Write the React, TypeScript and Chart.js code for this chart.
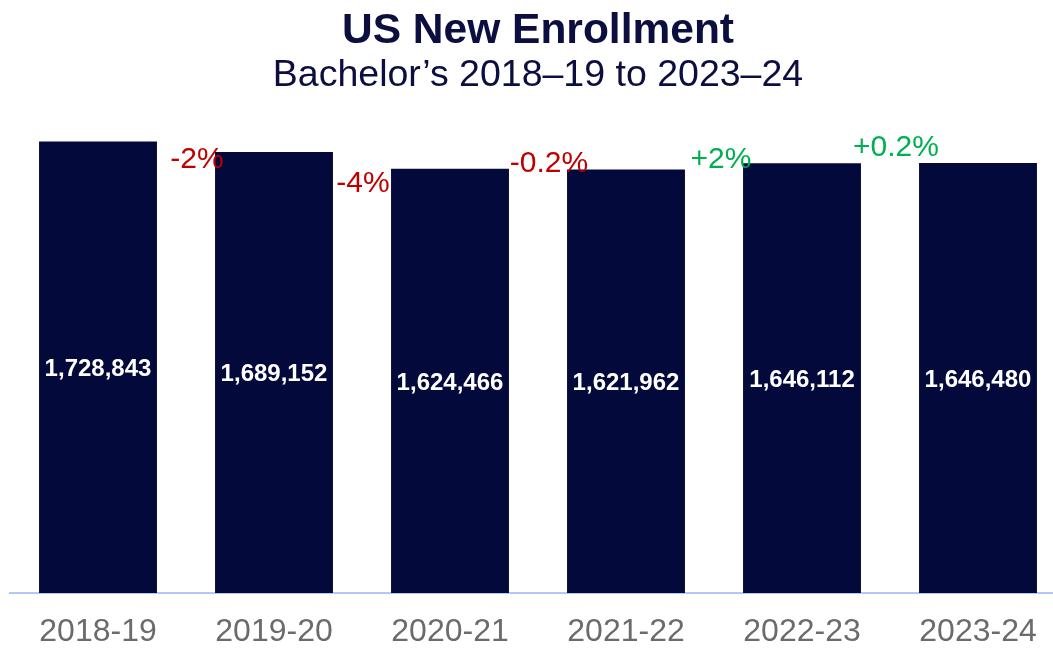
import React, { useEffect, useRef } from "react";
import { Chart, registerables } from "chart.js";

Chart.register(...registerables);

const categories = ["2018-19", "2019-20", "2020-21", "2021-22", "2022-23", "2023-24"];
const enrollment = [1728843, 1689152, 1624466, 1621962, 1646112, 1646480];
const changeLabels = ["-2%", "-4%", "-0.2%", "+2%", "+0.2%"];
const titleText = "US New Enrollment";
const subtitleText = "Bachelor\u2019s 2018\u201319 to 2023\u201324";

const FONT = "'Liberation Sans', Arial, Helvetica, sans-serif";
const NAVY = "#030a3b";
const RED = "#c00000";
const GREEN = "#00b050";

// small hand-placement nudges for the change labels (pixels)
const changeNudgeX = [11, 1, 11, 7, 6];
const changeNudgeY = [8, 15, -6, -3, -15];

const labelsPlugin = {
  id: "customLabels",
  afterDatasetsDraw(chart: any) {
    const ctx = chart.ctx;
    const meta = chart.getDatasetMeta(0);
    const xScale = chart.scales.x;
    ctx.save();
    ctx.font = `bold 24px ${FONT}`;
    ctx.fillStyle = "#ffffff";
    ctx.textAlign = "center";
    ctx.textBaseline = "middle";
    meta.data.forEach((bar: any, i: number) => {
      const mid = (bar.y + bar.base) / 2 + 2;
      ctx.fillText(enrollment[i].toLocaleString("en-US"), bar.x, mid);
    });
    ctx.font = `30px ${FONT}`;
    changeLabels.forEach((txt, i) => {
      const x = (xScale.getPixelForValue(i) + xScale.getPixelForValue(i + 1)) / 2 + changeNudgeX[i];
      const nextBar: any = meta.data[i + 1];
      const y = nextBar.y + changeNudgeY[i];
      ctx.fillStyle = txt.startsWith("+") ? GREEN : RED;
      ctx.fillText(txt, x, y);
    });
    ctx.restore();
  },
};

export default function App() {
  const canvasRef = useRef<HTMLCanvasElement | null>(null);

  useEffect(() => {
    if (!canvasRef.current) return;
    const chart = new Chart(canvasRef.current, {
      type: "bar",
      data: {
        labels: categories,
        datasets: [
          {
            data: enrollment,
            backgroundColor: NAVY,
            borderWidth: 0,
            barPercentage: 0.67,
            categoryPercentage: 1,
          },
        ],
      },
      options: {
        animation: false,
        responsive: true,
        maintainAspectRatio: false,
        layout: { padding: { left: 48, right: 0, top: 0, bottom: 0 } },
        plugins: {
          legend: { display: false },
          tooltip: { enabled: false },
          title: {
            display: true,
            text: titleText,
            color: "#0b0e3e",
            font: { family: FONT, size: 42.5, weight: "bold", lineHeight: 1 },
            padding: { top: 10, bottom: 1.5 },
          },
          subtitle: {
            display: true,
            text: subtitleText,
            color: "#0b0e3e",
            font: { family: FONT, size: 37.5, weight: "normal", lineHeight: 1 },
            padding: { top: 3, bottom: 28.5 },
          },
        },
        scales: {
          x: {
            grid: { display: false, drawTicks: false },
            border: { display: true, color: "#b5c6f6", width: 2 },
            ticks: {
              color: "#6b6b6b",
              padding: 23,
              font: { family: FONT, size: 32, lineHeight: 1 },
            },
            afterFit: (scale: any) => {
              scale.height = 55;
            },
          },
          y: {
            display: false,
            min: 0,
            max: 1800000,
          },
        },
      },
      plugins: [labelsPlugin],
    });
    return () => chart.destroy();
  }, []);

  return (
    <div style={{ position: "fixed", left: -38, top: 0, width: 1104, height: 648 }}>
      <canvas ref={canvasRef} />
    </div>
  );
}
